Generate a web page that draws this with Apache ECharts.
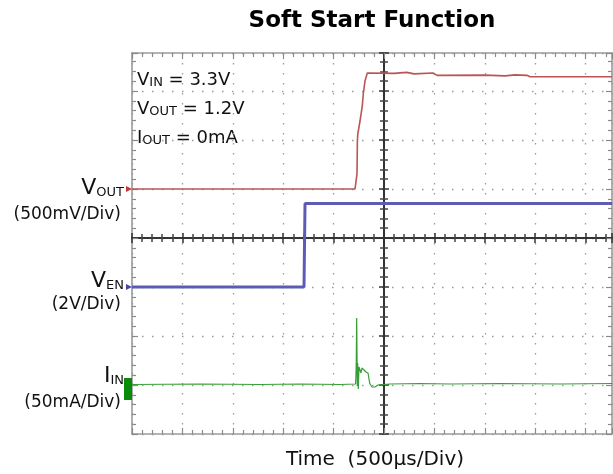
<!DOCTYPE html>
<html>
<head>
<meta charset="utf-8">
<script src="https://cdn.jsdelivr.net/npm/echarts@6/dist/echarts.min.js"></script>
<style>
html,body{margin:0;padding:0;background:#fff;}
#chart{width:613px;height:474px;}
</style>
</head>
<body>
<div id="chart"></div>
<script>
// ---- data (graticule divisions; x: 500us/div, 0 = centre line) ----
const xRange = [-5, 4.524];
const yRange = [-4, 3.776];

const voutTrace = [
  [-5, 1.0], [-2.52, 1.0], [-2.50, 1.02], [-2.46, 1.0], [-2.28, 1.0], [-2.26, 1.02], [-2.22, 1.0],
  [-0.575, 1.0], [-0.542, 1.027], [-0.536, 1.306], [-0.528, 1.98], [-0.52, 2.12], [-0.476, 2.388],
  [-0.43, 2.70], [-0.411, 2.939], [-0.377, 3.204], [-0.331, 3.367], [0.2, 3.36], [0.45, 3.38],
  [0.6, 3.35], [0.972, 3.367], [1.052, 3.32], [2.0, 3.325], [2.4, 3.31], [2.6, 3.33],
  [2.837, 3.32], [2.897, 3.292], [4.524, 3.292]
];

const venTrace = [
  [-5, -1.0], [-1.587, -1.0], [-1.567, 0.705], [4.524, 0.705]
];

const iinTrace = [
  [-5, -2.99], [-3.651, -2.98], [-2.46, -2.99], [-1.667, -2.98], [-0.873, -2.99], [-0.565, -2.98],
  [-0.556, -2.816], [-0.550, -2.51], [-0.542, -1.633], [-0.536, -2.306], [-0.530, -3.02],
  [-0.522, -2.551], [-0.510, -3.082], [-0.496, -2.633], [-0.476, -2.673], [-0.456, -2.755],
  [-0.437, -2.653], [-0.397, -2.694], [-0.357, -2.735], [-0.317, -2.755], [-0.298, -2.878],
  [-0.278, -2.98], [-0.238, -3.041], [-0.179, -3.041], [-0.119, -3.0], [0.119, -2.98],
  [0.714, -2.969], [1.31, -2.98], [2.302, -2.969], [3.492, -2.98], [4.524, -2.969]
];

const channelLevels = [1.0, -1.0, -2.98];          // VOUT, VEN, IIN ground markers
const channelNames = [['V', 'OUT'], ['V', 'EN'], ['I', 'IN']];
const channelScales = ['(500mV/Div)', '(2V/Div)', '(50mA/Div)'];
const conditionLines = [['V', 'IN', ' = 3.3V'], ['V', 'OUT', ' = 1.2V'], ['I', 'OUT', ' = 0mA']];
const titleText = 'Soft Start Function';
const xAxisName = 'Time  (500\u00b5s/Div)';

// ---- chart ----
const FONT = '"DejaVu Sans", "Liberation Sans", sans-serif';
const chart = echarts.init(document.getElementById('chart'), null, {renderer: 'canvas'});

function frameAxis(isX, position, withSplit) {
  return {
    type: 'value',
    position: position,
    min: isX ? xRange[0] : yRange[0],
    max: isX ? xRange[1] : yRange[1],
    interval: 1,
    axisLabel: {show: false},
    axisLine: {show: true, onZero: false, lineStyle: {color: '#9a9a9a', width: 1.6}},
    axisTick: {show: true, inside: true, length: 6, lineStyle: {color: '#8a8a8a', width: 1.2}},
    minorTick: {show: true, splitNumber: 5, length: 4, lineStyle: {color: '#8a8a8a', width: 1.2}},
    splitLine: withSplit ? {show: true, lineStyle: {color: '#9a9a9a', width: 1.3, type: [1.5, 8.5]}} : {show: false},
    minorSplitLine: {show: false}
  };
}
function centreAxis(isX, inside) {
  return {
    type: 'value',
    position: isX ? 'bottom' : 'left',
    min: isX ? xRange[0] : yRange[0],
    max: isX ? xRange[1] : yRange[1],
    interval: 1,
    axisLabel: {show: false},
    axisLine: {show: true, onZero: true, onZeroAxisIndex: 0, lineStyle: {color: '#333', width: 2}},
    axisTick: {show: true, inside: inside, length: 5, lineStyle: {color: '#333', width: 1.5}},
    minorTick: {show: true, splitNumber: 5, length: 4, lineStyle: {color: '#444', width: 1.5}},
    splitLine: {show: false}
  };
}

function richLabel(parts, mainSize, subSize, color) {
  let text = '{m|' + parts[0] + '}{s|' + parts[1] + '}';
  if (parts[2]) text += '{m|' + parts[2] + '}';
  return {
    text: text,
    rich: {
      m: {fontSize: mainSize, fontFamily: FONT, fill: color, lineHeight: mainSize, verticalAlign: 'bottom'},
      s: {fontSize: subSize, fontFamily: FONT, fill: color, lineHeight: Math.round(subSize * 1.25), verticalAlign: 'bottom'}
    }
  };
}

const labelY = [[188, 215], [281, 305], [376, 403]];
const graphics = [
  {type: 'text', x: 372, y: 21, style: {text: titleText, font: 'bold 23px ' + FONT, fill: '#000', align: 'center', verticalAlign: 'middle'}},
  {type: 'text', x: 375, y: 460, style: {text: xAxisName, font: '20px ' + FONT, fill: '#111', align: 'center', verticalAlign: 'middle'}}
];
channelNames.forEach((n, i) => {
  graphics.push({type: 'text', x: 124, y: labelY[i][0],
    style: Object.assign(richLabel(n, 22, 13, '#111'), {align: 'right', verticalAlign: 'middle'})});
  graphics.push({type: 'text', x: 121, y: labelY[i][1],
    style: {text: channelScales[i], font: '17px ' + FONT, fill: '#111', align: 'right', verticalAlign: 'middle'}});
});
const condY = [80, 109, 138];
conditionLines.forEach((c, i) => {
  graphics.push({type: 'text', x: 137, y: condY[i],
    style: Object.assign(richLabel(c, 18, 13, '#111'), {align: 'left', verticalAlign: 'middle'})});
});

function marker(level, color, symbol, size, offset, rotate) {
  return {
    silent: true,
    symbol: symbol, symbolSize: size, symbolOffset: offset, symbolRotate: rotate,
    itemStyle: {color: color},
    label: {show: false},
    data: [{coord: [xRange[0], level]}],
    animation: false
  };
}

const option = {
  backgroundColor: '#fff',
  animation: false,
  grid: {left: 132, top: 53, width: 480, height: 381, containLabel: false, outerBoundsMode: 'none'},
  xAxis: [
    frameAxis(true, 'bottom', true),
    frameAxis(true, 'top', false),
    centreAxis(true, true),
    centreAxis(true, false)
  ],
  yAxis: [
    frameAxis(false, 'left', true),
    frameAxis(false, 'right', false),
    centreAxis(false, true),
    centreAxis(false, false)
  ],
  graphic: graphics,
  series: [
    {type: 'line', name: 'VOUT', data: voutTrace, xAxisIndex: 0, yAxisIndex: 0, symbol: 'none', clip: false,
      lineStyle: {color: '#bb5555', width: 1.6}, z: 5,
      markPoint: marker(channelLevels[0], '#c03a3a', 'triangle', [6, 6], [-3, 0], -90)},
    {type: 'line', name: 'VEN', data: venTrace, xAxisIndex: 0, yAxisIndex: 0, symbol: 'none', clip: false,
      lineStyle: {color: '#5c5cb4', width: 3}, z: 5,
      markPoint: marker(channelLevels[1], '#4646a6', 'triangle', [6, 6], [-3, 0], -90)},
    {type: 'line', name: 'IIN', data: iinTrace, xAxisIndex: 0, yAxisIndex: 0, symbol: 'none', clip: false,
      lineStyle: {color: '#36a036', width: 1.2}, z: 5,
      markPoint: marker(channelLevels[2], '#0a8a0a', 'rect', [8, 22], [-4, 5], 0)}
  ]
};
chart.setOption(option);
</script>
</body>
</html>
